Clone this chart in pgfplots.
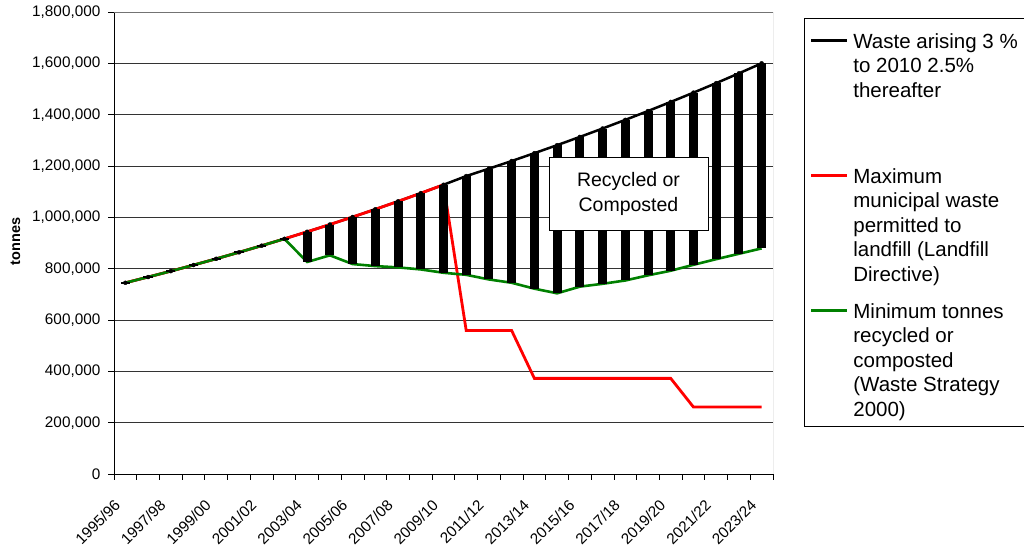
\documentclass[border=0pt]{standalone}
\usepackage{pgfplots}
\pgfplotsset{compat=1.18}
\usepackage{pgfplotstable}
\usepackage{fontspec}
\setmainfont{Liberation Sans}
\definecolor{xlgreen}{RGB}{0,128,0}

\pgfplotstableread{
x black red green
0 745000 745000 745000
1 767350 767350 767350
2 790370 790370 790370
3 814080 814080 814080
4 838500 838500 838500
5 863660 863660 863660
6 889570 889570 889570
7 916260 916260 916260
8 943750 943750 826000
9 972060 972060 852000
10 1001220 1001220 818000
11 1031260 1031260 810000
12 1062200 1062200 805000
13 1094060 1094060 797000
14 1126880 1126880 784000
15 1160690 558750 776000
16 1189710 558750 758000
17 1219450 558750 745000
18 1249940 372500 722000
19 1281190 372500 704000
20 1313220 372500 730000
21 1346050 372500 741000
22 1379700 372500 754000
23 1414190 372500 774000
24 1449550 372500 792000
25 1485790 260750 815000
26 1522930 260750 837000
27 1561000 260750 858000
28 1600030 260750 879000
}\datatable

\begin{document}
\begin{tikzpicture}
\useasboundingbox (-114bp,-76bp) rectangle (910bp,474bp);
\begin{axis}[
  at={(0,0)}, anchor=south west,
  width=659bp, height=462bp, scale only axis,
  xmin=-0.5, xmax=28.5, ymin=0, ymax=1800000,
  axis x line*=bottom, axis y line*=left,
  axis line style={black, line width=0.9bp},
  tick align=outside, major tick length=5.5bp,
  tick style={black, line width=0.8bp},
  xtick={-0.5,0.5,...,28.5},
  xticklabels={},
  extra x ticks={0,2,...,28},
  extra x tick labels={1995/96,1997/98,1999/00,2001/02,2003/04,2005/06,2007/08,2009/10,2011/12,2013/14,2015/16,2017/18,2019/20,2021/22,2023/24},
  extra x tick style={major tick length=0pt},
  ytick={0,200000,...,1800000},
  yticklabels={0,{200,000},{400,000},{600,000},{800,000},{1,000,000},{1,200,000},{1,400,000},{1,600,000},{1,800,000}},
  scaled y ticks=false,
  tick label style={font=\fontsize{15.3bp}{18bp}\selectfont},
  xticklabel style={anchor=east, inner sep=0pt, xshift=-8bp, yshift=-28bp, rotate=45},
  yticklabel style={anchor=east, inner sep=0pt, xshift=-8bp},
  ymajorgrids,
  major grid style={black!80, line width=0.6bp},
  ylabel={tonnes},
  ylabel style={font=\bfseries\fontsize{14.5bp}{17bp}\selectfont, at={(axis description cs:-0.1495,0.503)}, anchor=center},
  legend style={at={(axis description cs:1.0470,0.9864)}, anchor=north west,
    draw=black, line width=0.8bp, fill=white, inner sep=0pt, row sep=0pt, column sep=0pt,
    cells={anchor=north west},
    nodes={inner sep=0pt},
    font=\fontsize{20.5bp}{24.5bp}\selectfont},
  legend image code/.code={\path[draw=none] (0bp,0bp) -- (49bp,0bp); \draw[#1, line width=2.6bp] (6.7bp,-21.7bp) -- (42.7bp,-21.7bp);},
]
\addplot[black, line width=2.5bp] table[x=x, y=black] {\datatable};
\addlegendentry{\parbox[b][133.3bp][t]{175bp}{\raggedright\rule{0pt}{29bp}Waste arising 3 \%\\to 2010 2.5\%\\thereafter}}
\addplot[red, line width=2.8bp] table[x=x, y=red] {\datatable};
\addlegendentry{\parbox[b][133.3bp][t]{175bp}{\raggedright\rule{0pt}{29bp}Maximum\\municipal waste\\permitted to\\landfill (Landfill\\Directive)}}
\addplot[xlgreen, line width=2.6bp] table[x=x, y=green] {\datatable};
\addlegendentry{\parbox[b][135.6bp][t]{175bp}{\raggedright\rule{0pt}{29bp}Minimum tonnes\\recycled or\\composted\\(Waste Strategy\\2000)}}
\addplot[forget plot, black, only marks, mark=none,
  error bars/.cd, y dir=minus, y explicit, error mark=none,
  error bar style={black, line width=9bp}]
  table[x=x, y=black, y error expr=\thisrow{black}-\thisrow{green}] {\datatable};
\addplot[forget plot, black, only marks, mark=-, mark size=4.6bp,
  mark options={line width=2.3bp}, restrict x to domain=0:7]
  table[x=x, y=black] {\datatable};
\draw[black!55, line width=0.8bp] (rel axis cs:0,1) -- (rel axis cs:1,1) -- (rel axis cs:1,0);
\node[draw=black, fill=white, line width=0.8bp, align=center, minimum width=159bp, minimum height=73bp,
  font=\fontsize{19.5bp}{25bp}\selectfont] at (axis cs:22.14,1092900) {Recycled or\\Composted};
\end{axis}
\end{tikzpicture}
\end{document}
